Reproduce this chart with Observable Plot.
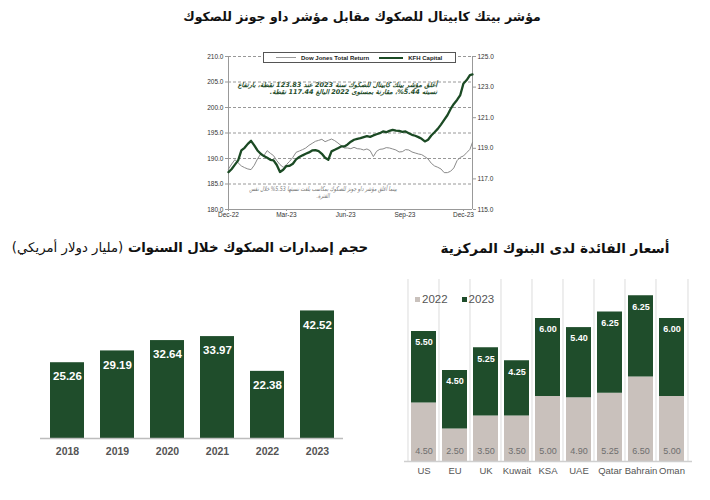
<!DOCTYPE html>
<html><head><meta charset="utf-8">
<script src="https://cdn.jsdelivr.net/npm/d3@7"></script>
<script src="https://cdn.jsdelivr.net/npm/@observablehq/plot@0.6"></script>
<style>
body{margin:0;background:#fff;}
#root{position:relative;width:710px;height:500px;overflow:hidden;font-family:"Liberation Sans",Arial,"DejaVu Sans",sans-serif;}
.abs{position:absolute;}
.ar{font-family:"DejaVu Sans",sans-serif;direction:rtl;white-space:nowrap;}
</style></head><body><div id="root"></div><script>
// ---- Line chart data (KFH Capital Sukuk index vs Dow Jones Sukuk Total Return) ----
const lineDates = ["2022-12-01","2022-12-06","2022-12-11","2022-12-16","2022-12-21","2022-12-26","2022-12-31","2023-01-05","2023-01-10","2023-01-15",
"2023-01-20","2023-01-25","2023-01-30","2023-02-04","2023-02-09","2023-02-14","2023-02-19","2023-02-24","2023-03-01","2023-03-06",
"2023-03-11","2023-03-16","2023-03-21","2023-03-26","2023-03-31","2023-04-05","2023-04-10","2023-04-15","2023-04-20","2023-04-25",
"2023-04-30","2023-05-05","2023-05-10","2023-05-15","2023-05-20","2023-05-25","2023-05-30","2023-06-04","2023-06-09","2023-06-14",
"2023-06-19","2023-06-24","2023-06-29","2023-07-04","2023-07-09","2023-07-14","2023-07-19","2023-07-24","2023-07-29","2023-08-03",
"2023-08-08","2023-08-13","2023-08-18","2023-08-23","2023-08-28","2023-09-02","2023-09-07","2023-09-12","2023-09-17","2023-09-22",
"2023-09-27","2023-10-02","2023-10-07","2023-10-12","2023-10-17","2023-10-22","2023-10-27","2023-11-01","2023-11-06","2023-11-11",
"2023-11-16","2023-11-21","2023-11-26","2023-12-01","2023-12-06","2023-12-11","2023-12-15"];
const djValues = [187.95,188.93,189.78,189.13,188.54,188.21,187.95,187.82,188.67,189.91,
190.89,190.56,191.54,191.02,190.56,189.58,188.80,188.28,188.80,189.45,
190.23,191.21,191.47,191.74,192.06,192.58,192.97,193.37,193.56,193.76,
193.30,193.56,193.82,193.50,193.04,192.52,192.06,192.06,191.93,192.19,
191.93,191.87,191.67,191.87,191.54,190.37,191.41,191.80,191.87,192.13,
192.06,191.87,191.67,191.28,191.34,191.74,191.67,191.28,191.08,190.89,
190.76,190.37,189.91,189.06,188.54,188.28,187.95,187.23,187.23,187.50,
188.15,189.58,190.23,190.50,191.15,191.80,193.17];
const kfhValues = [117.44,117.65,117.93,118.21,118.86,119.03,119.29,119.49,119.19,118.86,
118.64,118.49,118.38,118.25,118.21,117.91,117.45,117.60,117.84,117.86,
117.99,118.28,118.43,118.54,118.64,118.73,118.86,118.88,118.82,118.64,
118.38,118.25,118.80,118.90,119.01,119.12,119.12,119.25,119.43,119.56,
119.62,119.66,119.73,119.79,119.75,119.84,119.92,119.99,120.10,120.05,
120.14,120.21,120.16,120.14,120.08,120.10,119.99,119.88,119.82,119.73,
119.62,119.45,119.56,119.84,120.05,120.27,120.55,120.86,121.16,121.57,
121.90,122.16,122.48,123.24,123.46,123.79,123.83];
const leftTicks = [180,185,190,195,200,205,210];
const rightTicks = [115,117,119,121,123,125];
const xTickDates = ["2022-12-01","2023-03-01","2023-06-01","2023-09-01","2023-12-01"];
const xDomain = ["2022-12-01","2023-12-15"];

// ---- Sukuk issuance (USD bn) ----
const sukukYears = ["2018","2019","2020","2021","2022","2023"];
const sukukIssuance = [25.26,29.19,32.64,33.97,22.38,42.52];

// ---- Central bank interest rates ----
const banks = ["US","EU","UK","Kuwait","KSA","UAE","Qatar","Bahrain","Oman"];
const rate2022 = [4.50,2.50,3.50,3.50,5.00,4.90,5.25,6.50,5.00];
const rate2023 = [5.50,4.50,5.25,4.25,6.00,5.40,6.25,6.25,6.00];
const rateYears = ["2022","2023"];

const green = "#1f4d2b";
const root = document.getElementById("root");
function place(el, left, top){ el.style.position="absolute"; el.style.left=left+"px"; el.style.top=top+"px"; root.appendChild(el); return el; }
function html(s, left, top, style){ const d=document.createElement("div"); d.innerHTML=s; d.style.cssText=style||""; return place(d,left,top); }

// ---------- Line chart ----------
const rightToLeft = v => 180 + (v - 115) * 3; // secondary axis mapping (115..125 -> 180..210)
const rows = lineDates.map((d,i)=>({date:new Date(d), dj:djValues[i], kfh:kfhValues[i]}));
const lineChart = Plot.plot({
  width:310, height:180, marginLeft:38, marginRight:28, marginTop:11, marginBottom:16,
  style:{fontFamily:"Liberation Sans, Arial, sans-serif", fontSize:"6.5px", color:"#333", background:"transparent", overflow:"visible"},
  x:{type:"utc", domain:xDomain.map(d=>new Date(d)), label:null},
  y:{domain:[180,210], label:null},
  marks:[
    Plot.ruleY(leftTicks.filter(v=>v>180), {stroke:"#8c8c8c", strokeDasharray:"3,2", strokeWidth:0.9}),
    Plot.ruleY([180], {stroke:"#999"}),
    Plot.ruleX(xDomain.map(d=>new Date(d)), {stroke:"#999"}),
    Plot.axisY(leftTicks, {anchor:"left", tickSize:3, tickPadding:2, tickFormat:d3.format(".1f"), stroke:"#999"}),
    Plot.axisY(rightTicks.map(rightToLeft), {anchor:"right", tickSize:3, tickPadding:2, tickFormat:d=>((d-180)/3+115).toFixed(1), stroke:"#999"}),
    Plot.axisX(xTickDates.map(d=>new Date(d)), {tickSize:2, tickPadding:1, tickFormat:d3.utcFormat("%b-%y"), stroke:"#999"}),
    Plot.line(rows, {x:"date", y:"dj", stroke:"#8a8a8a", strokeWidth:1}),
    Plot.line(rows, {x:"date", y:d=>rightToLeft(d.kfh), stroke:"#1b4a24", strokeWidth:2.3})
  ]
});
place(lineChart, 190, 45);

// legend box
html(`<span style="display:inline-block;margin-left:12px;width:20px;border-top:1px solid #999"></span><span style="margin-left:5px">Dow Jones Total Return</span><span style="display:inline-block;margin-left:10px;width:24px;border-top:2.5px solid #1b4a24"></span><span style="margin-left:5px">KFH Capital</span>`,
  263, 52, "width:193px;height:11px;border:1px solid #555;background:#fff;font:bold 6px 'Liberation Sans',Arial;display:flex;align-items:center;color:#222;box-sizing:border-box;");

// annotations
html(`أغلق مؤشر بيتك كابيتال للصكوك سنة 2023 عند 123.83 نقطة، بارتفاع<br>نسبته 5.44%، مقارنة بمستوى 2022 البالغ 117.44 نقطة.`,
  232, 82, "width:205px;text-align:right;font-size:6.5px;line-height:6.5px;font-style:italic;font-weight:bold;color:"+green+";");
html(`بينما أغلق مؤشر داو جونز للصكوك بمكاسب بلغت نسبتها 5.53% خلال نفس<br>الفترة.`,
  213, 186, "width:220px;text-align:center;font-size:6.5px;line-height:7px;font-style:italic;color:#777;transform:scaleX(0.72);transform-origin:center;");
for (const el of root.querySelectorAll("div")) if (/[\u0600-\u06FF]/.test(el.textContent)) el.classList.add("ar");

// ---------- Titles ----------
html(`مؤشر بيتك كابيتال للصكوك مقابل مؤشر داو جونز للصكوك`, 12, 9, "width:700px;text-align:center;font-size:12.5px;font-weight:bold;color:#111;").classList.add("ar");
html(`حجم إصدارات الصكوك خلال السنوات <span style="font-weight:normal">(مليار دولار أمريكي)</span>`, 0, 240, "width:380px;text-align:center;font-size:13.3px;font-weight:bold;color:#111;").classList.add("ar");
html(`أسعار الفائدة لدى البنوك المركزية`, 400, 240, "width:310px;text-align:center;font-size:13.7px;font-weight:bold;color:#111;").classList.add("ar");

// ---------- Sukuk issuance bar chart ----------
const sukukChart = Plot.plot({
  width:380, height:190, marginLeft:40, marginRight:37, marginTop:8, marginBottom:32,
  style:{fontFamily:"Liberation Sans, Arial, sans-serif", background:"transparent", overflow:"visible"},
  x:{domain:sukukYears, paddingInner:0.325, paddingOuter:0.169, label:null},
  y:{domain:[0,50], axis:null},
  marks:[
    Plot.barY(sukukYears, {x:d=>d, y:(d,i)=>sukukIssuance[i], fill:green}),
    Plot.ruleY([0], {stroke:"#bdbdbd", strokeWidth:1.5}),
    Plot.text(sukukYears, {x:d=>d, y:(d,i)=>sukukIssuance[i], dy:14, text:(d,i)=>sukukIssuance[i].toFixed(2), fill:"#fff", fontWeight:"bold", fontSize:11.5}),
    Plot.axisX({tickSize:0, tickPadding:9, fontSize:10.5, fontWeight:"bold", fill:"#555"})
  ]
});
place(sukukChart, 0, 280);

// ---------- Central bank rates stacked bar chart ----------
const rateRows = banks.flatMap((b,i)=>[{bank:b, year:rateYears[0], value:rate2022[i]}, {bank:b, year:rateYears[1], value:rate2023[i]}]);
const rateChart = Plot.plot({
  width:320, height:210, marginLeft:14, marginRight:18, marginTop:9, marginBottom:19,
  style:{fontFamily:"Liberation Sans, Arial, sans-serif", background:"transparent", overflow:"visible"},
  x:{domain:banks, paddingInner:0.1875, paddingOuter:0.094, label:null},
  y:{domain:[0,14], axis:null},
  color:{domain:rateYears, range:["#c9c1bc", green]},
  marks:[
    Plot.ruleX(banks, {x:d=>d, dx:-16, stroke:"#e2e2e2", strokeWidth:1.2}),
    Plot.ruleX(banks.slice(-1), {x:d=>d, dx:16, stroke:"#e2e2e2", strokeWidth:1.2}),
    Plot.barY(rateRows, {x:"bank", y:"value", fill:"year"}),
    Plot.ruleY([0], {stroke:"#cfcfcf", strokeWidth:1.5}),
    Plot.text(banks, {x:d=>d, y:0, dy:-10, text:(d,i)=>rate2022[i].toFixed(2), fill:"#6e6e6e", fontSize:9}),
    Plot.text(banks, {x:d=>d, y:(d,i)=>rate2022[i]+rate2023[i], dy:11, text:(d,i)=>rate2023[i].toFixed(2), fill:"#fff", fontWeight:"bold", fontSize:9}),
    Plot.axisX({tickSize:0, tickPadding:6, fontSize:9.5, fill:"#555"})
  ]
});
place(rateChart, 390, 270);

// legend for rates
html(`<span style="display:inline-block;width:5px;height:5px;background:#c9c1bc;margin-right:2px;vertical-align:middle"></span>${rateYears[0]}<span style="display:inline-block;width:5px;height:5px;background:${green};margin:0 2px 0 14px;vertical-align:middle"></span>${rateYears[1]}`,
  415, 292, "font:11.5px 'Liberation Sans',Arial;color:#555;line-height:14px;white-space:nowrap;");
</script></body></html>
